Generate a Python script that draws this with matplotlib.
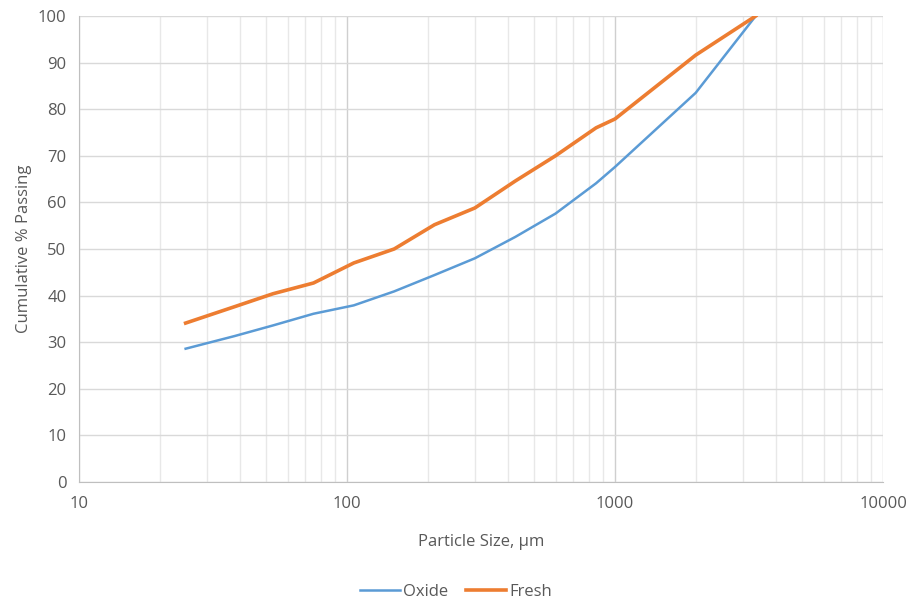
import matplotlib.pyplot as plt
from matplotlib.ticker import LogLocator, FixedLocator, NullFormatter

# sieve sizes, um
sizes = [25, 38, 53, 75, 106, 150, 212, 300, 425, 600, 850, 1000, 2000, 3350]
oxide = [28.6, 31.3, 33.6, 36.1, 37.9, 40.9, 44.4, 48.0, 52.6, 57.6, 64.1, 67.6, 83.5, 100.0]
fresh = [34.1, 37.6, 40.4, 42.7, 47.0, 50.0, 55.2, 58.8, 64.6, 70.0, 76.0, 77.9, 91.6, 100.0]

TEXT = "#595959"
GRID = "#d9d9d9"

plt.rcParams['font.family'] = ['Open Sans', 'DejaVu Sans']

fig = plt.figure(figsize=(9.12, 6.03), dpi=100)
ax = fig.add_axes([0.0866, 0.2007, 0.8816, 0.7728])

ax.plot(sizes, oxide, color="#5B9BD5", linewidth=1.8, label="Oxide", zorder=3)
ax.plot(sizes, fresh, color="#ED7D31", linewidth=2.6, label="Fresh", zorder=3)

ax.set_xscale("log")
ax.set_xlim(10, 10000)
ax.set_ylim(0, 100)
ax.xaxis.set_major_locator(FixedLocator([10, 100, 1000, 10000]))
ax.xaxis.set_major_formatter(plt.FuncFormatter(lambda v, p: "%d" % v))
ax.xaxis.set_minor_locator(LogLocator(base=10, subs=range(2, 10)))
ax.xaxis.set_minor_formatter(NullFormatter())
ax.set_yticks(range(0, 101, 10))

ax.grid(True, which="major", color="#cfcfcf", linewidth=1.0, zorder=0)
ax.grid(True, which="minor", axis="x", color="#e8e8e8", linewidth=1.0, zorder=0)
ax.grid(True, which="major", axis="y", color=GRID, linewidth=1.0)

for side in ["top", "right"]:
    ax.spines[side].set_visible(False)
for side in ["left", "bottom"]:
    ax.spines[side].set_color("#bfbfbf")

ax.tick_params(which="both", length=0, colors=TEXT, labelsize=12)
ax.tick_params(axis="x", pad=10)
ax.tick_params(axis="y", pad=9)

ax.set_xlabel("Particle Size, µm", color=TEXT, fontsize=12, labelpad=16)
ax.set_ylabel("Cumulative % Passing", color=TEXT, fontsize=12, labelpad=4)

leg = fig.legend(*ax.get_legend_handles_labels(), loc="center",
                 bbox_to_anchor=(0.5, 0.018), ncol=2,
                 frameon=False, fontsize=12, handlelength=2.4, handletextpad=0.2,
                 columnspacing=1.1)
for t in leg.get_texts():
    t.set_color(TEXT)

fig.savefig("out.png", dpi=100)
